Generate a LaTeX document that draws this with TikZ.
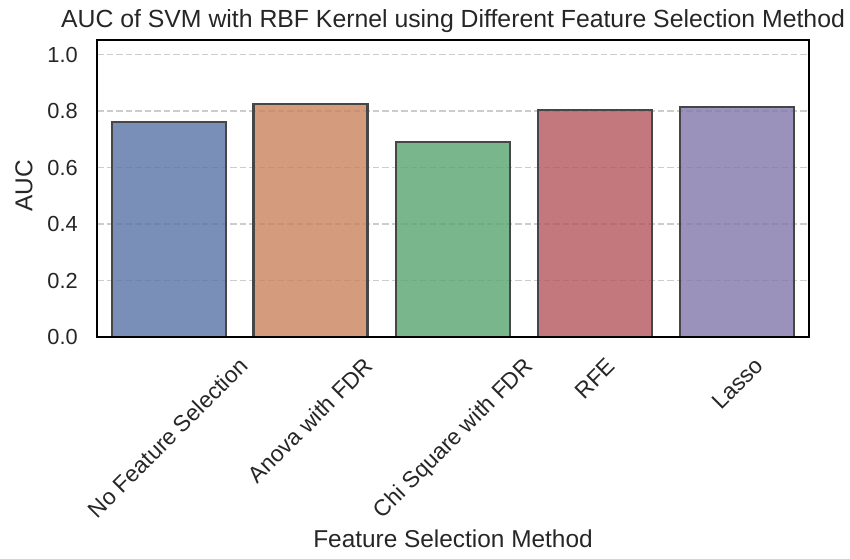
\documentclass[tikz,border=0pt]{standalone}
\usepackage{fontspec}
\setmainfont{Liberation Sans}
\usepackage{graphicx}
\definecolor{txt}{HTML}{262626}
\definecolor{cblue}{RGB}{89,115,166}
\definecolor{corange}{RGB}{201,131,91}
\definecolor{cgreen}{RGB}{89,164,111}
\definecolor{cred}{RGB}{179,86,91}
\definecolor{cpurple}{RGB}{130,119,170}
\definecolor{edge}{HTML}{464646}
\definecolor{gridc}{HTML}{CCCCCC}
\newcommand{\xlab}[1]{\rotatebox{45}{\rule[-0.212em]{0pt}{1.117em}#1}}
\tikzset{
  bar/.style={draw=edge, line width=2.4pt, fill opacity=0.8},
  gridline/.style={draw=gridc, line width=1.6pt, dash pattern=on 6.5pt off 3pt},
  ytick/.style={anchor=east, inner sep=0pt, text=txt, font=\fontsize{21.8}{24}\selectfont},
  xtick/.style={anchor=north, inner sep=0pt, text=txt, font=\fontsize{22.8}{24}\selectfont},
  axlabel/.style={inner sep=0pt, text=txt, font=\fontsize{24.4}{28}\selectfont},
}
\begin{document}
\begin{tikzpicture}[x=1pt, y=-1pt]
\useasboundingbox (0,0) rectangle (850,558);
% gridlines
\foreach \v/\yy in {0.2/280.5, 0.4/224, 0.6/167.5, 0.8/111, 1.0/54.5} {
  \draw[gridline] (97,\yy) -- (809,\yy);
  \node[ytick] (yt\v) at (78,\yy) {\v};
}
\node[ytick] (yt0) at (78,337) {0.0};
% bars
\path[bar, fill=cblue]   (112,337) rectangle (226,122);
\path[bar, fill=corange] (253.5,337) rectangle (367.5,104);
\path[bar, fill=cgreen]  (396,337) rectangle (510,142);
\path[bar, fill=cred]    (538,337) rectangle (652,110);
\path[bar, fill=cpurple] (680,337) rectangle (794,107);
% frame
\draw[black, line width=1.6pt] (97,40) rectangle (809,337);
% x tick labels
\node[xtick] (l1) at (168,353) {\xlab{No Feature Selection}};
\node[xtick] (l2) at (310.5,353) {\xlab{Anova with FDR}};
\node[xtick] (l3) at (453,353) {\xlab{Chi Square with FDR}};
\node[xtick] (l4) at (595,353) {\xlab{RFE}};
\node[xtick] (l5) at (737,353) {\xlab{Lasso}};
% labels
\node[axlabel, anchor=base] (xl) at (453,547) {Feature Selection Method};
\node[axlabel, rotate=90] (yl) at (24,186) {AUC};
\node[axlabel, anchor=base, font=\fontsize{24.8}{28}\selectfont] (title) at (453,27) {AUC of SVM with RBF Kernel using Different Feature Selection Method};
\end{tikzpicture}
\end{document}
